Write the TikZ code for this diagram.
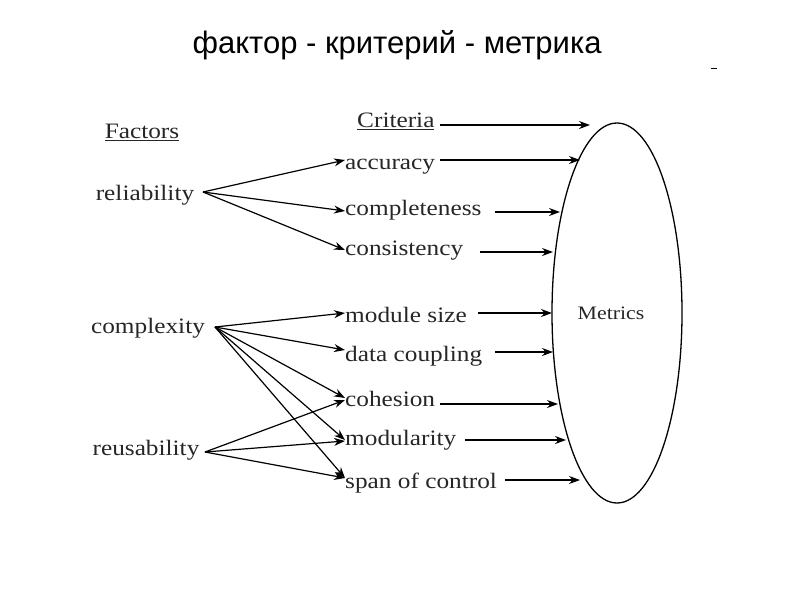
\documentclass[tikz,border=0pt]{standalone}
\usepackage{fontspec}
\usepackage{graphicx}
\setmainfont{Liberation Serif}
\newfontfamily\titlefont{Liberation Sans}
\usetikzlibrary{arrows.meta,shapes.geometric}
\newcommand{\wt}[1]{\scalebox{1.15}[1]{#1}}
\begin{document}
\begin{tikzpicture}[x=1pt,y=-1pt,
  lbl/.style={inner sep=0pt,font=\fontsize{22}{22}\selectfont,text=black!85},
  arr/.style={-{Stealth[length=11pt,width=8pt]},line width=1.2pt}]
\useasboundingbox (0,0) rectangle (794,595);
\node[font=\titlefont\fontsize{31}{31}\selectfont] (title) at (397,45) {фактор - критерий - метрика};
\node[inner sep=0pt] (dash) at (714,68) {\rule{6pt}{0.8pt}};
\node[ellipse,draw,line width=1.3pt,minimum width=130pt,minimum height=380pt,inner sep=0pt] (M) at (617,313) {};
\node[lbl,font=\fontsize{19}{19}\selectfont] (metrics) at (611,313) {\wt{Metrics}};
\node[lbl] (factors) at (142,132) {\wt{\underline{Factors}}};
\node[lbl,anchor=west] (criteria) at (357,121) {\wt{\underline{Criteria}}};
\node[lbl] (rel) at (145,195) {\wt{reliability}};
\node[lbl] (cpx) at (148,328) {\wt{complexity}};
\node[lbl] (reu) at (146,450) {\wt{reusability}};
\node[lbl,anchor=west] (acc) at (345,167) {\wt{accuracy}};
\node[lbl,anchor=west] (com) at (345,210) {\wt{completeness}};
\node[lbl,anchor=west] (con) at (345,251) {\wt{consistency}};
\node[lbl,anchor=west] (mod) at (345,315) {\wt{module size}};
\node[lbl,anchor=west] (dat) at (345,356) {\wt{data coupling}};
\node[lbl,anchor=west] (coh) at (345,399) {\wt{cohesion}};
\node[lbl,anchor=west] (mdl) at (345,440) {\wt{modularity}};
\node[lbl,anchor=west] (spa) at (345,483) {\wt{span of control}};
% factor -> criteria
\coordinate (r0) at (203,192);
\coordinate (c0) at (215,327);
\coordinate (u0) at (205,452);
\draw[arr] (r0) -- (acc.west|-0,160);
\draw[arr] (r0) -- (com.west|-0,211);
\draw[arr] (r0) -- (con.west|-0,250);
\draw[arr] (c0) -- (mod.west|-0,313);
\draw[arr] (c0) -- (dat.west|-0,350);
\draw[arr] (c0) -- (coh.west|-0,398);
\draw[arr] (c0) -- (mdl.west|-0,440);
\draw[arr] (c0) -- (spa.west|-0,478);
\draw[arr] (u0) -- (coh.west|-0,400);
\draw[arr] (u0) -- (mdl.west|-0,441);
\draw[arr] (u0) -- (spa.west|-0,478);
% criteria -> metrics
\coordinate (e0) at (590,125);
\coordinate (e1) at (580,160);
\coordinate (e2) at (560,212);
\coordinate (e3) at (553,252);
\coordinate (e4) at (552,313);
\coordinate (e5) at (553,352);
\coordinate (e6) at (558,404);
\coordinate (e7) at (566,440);
\coordinate (e8) at (580,480);
\draw[arr] (440,125) -- (e0);
\draw[arr] (440,160) -- (e1);
\draw[arr] (495,212) -- (e2);
\draw[arr] (480,252) -- (e3);
\draw[arr] (478,313) -- (e4);
\draw[arr] (495,352) -- (e5);
\draw[arr] (440,404) -- (e6);
\draw[arr] (465,440) -- (e7);
\draw[arr] (505,480) -- (e8);
\end{tikzpicture}
\end{document}
